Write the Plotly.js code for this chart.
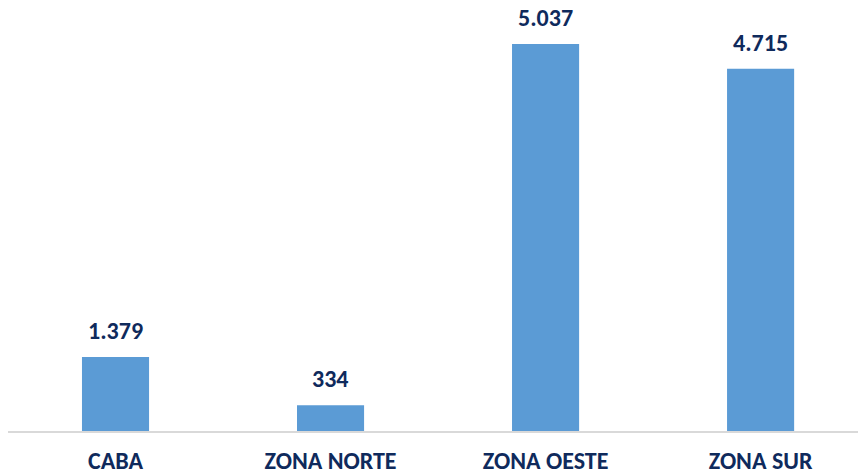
<!DOCTYPE html>
<html>
<head>
<meta charset="utf-8">
<script src="https://cdn.plot.ly/plotly-3.0.1.min.js"></script>
<style>html,body{margin:0;padding:0;background:#fff;}#chart{width:858px;height:475px;}</style>
</head>
<body>
<div id="chart"></div>
<script>
const categories = ["CABA", "ZONA NORTE", "ZONA OESTE", "ZONA SUR"];
// bar heights as drawn in the picture
const barHeights = [963, 334, 5037, 4715];
// value labels as printed above the bars
const valueLabels = ["1.379", "334", "5.037", "4.715"];

const textColor = "#0f2a5c";
const fontFam = "Carlito, Calibri, 'Open Sans', 'Noto Sans', sans-serif";

const trace = {
  type: "bar",
  x: categories,
  y: barHeights,
  marker: {color: "#5b9bd5"},
  hoverinfo: "none"
};

const annotations = categories.map((c, i) => ({
  x: c, y: barHeights[i], xref: "x", yref: "y",
  text: "<b>" + valueLabels[i] + "</b>",
  showarrow: false, yanchor: "bottom", yshift: 10,
  font: {family: fontFam, size: 24, color: textColor}
}));

const layout = {
  width: 858, height: 475,
  margin: {l: 8, r: 0, t: 0, b: 44},
  paper_bgcolor: "#fff", plot_bgcolor: "#fff",
  bargap: 0.688,
  showlegend: false,
  xaxis: {
    type: "category",
    range: [-0.5, 3.453],
    showline: true, linecolor: "#d9d9d9", linewidth: 2,
    ticks: "", ticklabelstandoff: 7,
    tickfont: {family: fontFam, size: 24, color: textColor, weight: "bold"},
    fixedrange: true
  },
  yaxis: {
    range: [0, 5610],
    visible: false, showgrid: false, zeroline: false,
    fixedrange: true
  },
  annotations: annotations
};

Plotly.newPlot("chart", [trace], layout, {displayModeBar: false, staticPlot: true});
</script>
</body>
</html>
